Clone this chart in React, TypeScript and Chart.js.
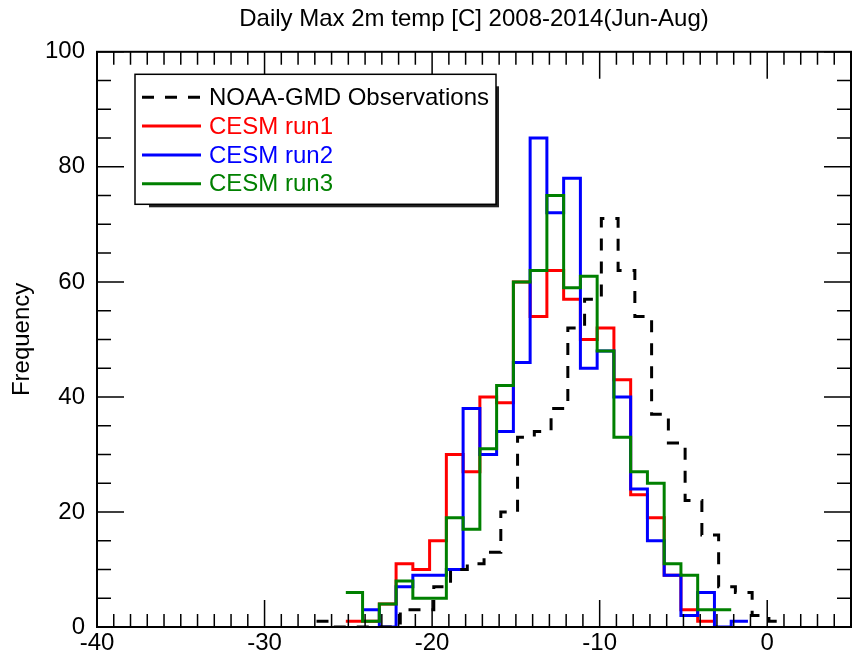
import React, { useEffect, useRef } from "react";
import { Chart, registerables } from "chart.js";

Chart.register(...registerables);

// ---------- DATA ----------
const TITLE = "Daily Max 2m temp [C] 2008-2014(Jun-Aug)";
const Y_TITLE = "Frequency";

const X_TICKS = [-40, -30, -20, -10, 0];
const Y_TICKS = [0, 20, 40, 60, 80, 100];
const X_MIN = -40;
const X_MAX = 5;
const Y_MIN = 0;
const Y_MAX = 100;

// Observation bin edges (left edges + final right edge), 1 °C bins
const OBS_EDGES = [
  -26.9, -25.9, -24.9, -23.9, -22.9, -21.9, -20.9, -19.9, -18.9, -17.9,
  -16.9, -15.9, -14.9, -13.9, -12.9, -11.9, -10.9, -9.9, -8.9, -7.9,
  -6.9, -5.9, -4.9, -3.9, -2.9, -1.9, -0.9, 0.1, 1.1,
];
const OBS_COUNTS = [
  1, 0, 0, 0, 0, 3, 3, 7, 10, 11,
  13, 20, 33, 34, 38, 52, 57, 71, 62, 54,
  37, 32, 22, 16, 7, 6, 2, 1,
];

// Model bin edges (left edges + final right edge), 1 °C bins
const MODEL_EDGES = [
  -25.15, -24.15, -23.15, -22.15, -21.15, -20.15, -19.15, -18.15, -17.15, -16.15,
  -15.15, -14.15, -13.15, -12.15, -11.15, -10.15, -9.15, -8.15, -7.15, -6.15,
  -5.15, -4.15, -3.15, -2.15, -1.15,
];
const RUN1_COUNTS = [
  1, 1, 4, 11, 10, 15, 30, 27, 40, 39,
  60, 54, 62, 57, 50, 52, 43, 23, 19, 9,
  3, 1, null, null,
];
const RUN2_COUNTS = [
  null, 3, 0, 7, 9, 9, 10, 38, 30, 34,
  46, 85, 72, 78, 45, 48, 40, 24, 15, 9,
  2, 6, 0, 1,
];
const RUN3_COUNTS = [
  6, 1, 4, 8, 5, 5, 19, 17, 31, 42,
  60, 62, 75, 59, 61, 48, 33, 27, 25, 11,
  9, 3, 3, null,
];

const SERIES_LABELS = ["NOAA-GMD Observations", "CESM run1", "CESM run2", "CESM run3"];

// ---------- helpers ----------
function stepPoints(edges: number[], counts: (number | null)[]) {
  const pts: { x: number; y: number }[] = [];
  let last = -1;
  for (let i = 0; i < counts.length; i++) {
    const c = counts[i];
    if (c === null || c === undefined) continue;
    pts.push({ x: edges[i], y: c });
    last = i;
  }
  if (last >= 0) pts.push({ x: edges[last + 1], y: counts[last] as number });
  return pts;
}

const FONT = "'Liberation Sans', Arial, Helvetica, sans-serif";

const framePlugin = {
  id: "idlFrame",
  afterDatasetsDraw(chart: any) {
    const { ctx, chartArea } = chart;
    const { left, right, top, bottom } = chartArea;
    const xs = chart.scales.x;
    const ys = chart.scales.y;
    ctx.save();
    ctx.strokeStyle = "#000";
    ctx.lineWidth = 1.5;
    ctx.beginPath();
    for (let v = X_MIN; v <= X_MAX; v += 1) {
      const px = xs.getPixelForValue(v);
      const len = X_TICKS.includes(v) ? 27 : 13;
      ctx.moveTo(px, bottom);
      ctx.lineTo(px, bottom - len);
      ctx.moveTo(px, top);
      ctx.lineTo(px, top + len);
    }
    for (let v = Y_MIN; v <= Y_MAX; v += 5) {
      const py = ys.getPixelForValue(v);
      const len = Y_TICKS.includes(v) ? 27 : 14;
      ctx.moveTo(left, py);
      ctx.lineTo(left + len, py);
      ctx.moveTo(right, py);
      ctx.lineTo(right - len, py);
    }
    ctx.stroke();
    ctx.lineWidth = 2;
    ctx.strokeRect(left, top, right - left, bottom - top);
    ctx.restore();
  },
};

const legendPlugin = {
  id: "boxLegend",
  afterDraw(chart: any) {
    const { ctx, chartArea } = chart;
    const bx = chartArea.left + 38;
    const by = chartArea.top + 22.5;
    const bw = 361;
    const bh = 130;
    ctx.save();
    // shadow
    ctx.fillStyle = "#222";
    ctx.fillRect(bx + 14, by + 12, bw - 11, bh - 9);
    ctx.fillStyle = "#fff";
    ctx.fillRect(bx, by, bw, bh);
    ctx.strokeStyle = "#000";
    ctx.lineWidth = 1.5;
    ctx.strokeRect(bx, by, bw, bh);
    ctx.font = `24px ${FONT}`;
    ctx.textBaseline = "middle";
    ctx.textAlign = "left";
    chart.data.datasets.forEach((ds: any, i: number) => {
      const ry = by + 23 + i * 28.8;
      ctx.strokeStyle = ds.borderColor;
      ctx.lineWidth = 3;
      ctx.setLineDash(ds.borderDash || []);
      ctx.beginPath();
      ctx.moveTo(bx + 7, ry);
      ctx.lineTo(bx + 66, ry);
      ctx.stroke();
      ctx.setLineDash([]);
      ctx.fillStyle = ds.borderColor;
      ctx.fillText(ds.label, bx + 74, ry + 1);
    });
    ctx.restore();
  },
};

export default function App() {
  const ref = useRef<HTMLCanvasElement>(null);

  useEffect(() => {
    const canvas = ref.current;
    if (!canvas) return;
    const common = {
      stepped: true,
      borderWidth: 3,
      pointRadius: 0,
      fill: false,
      tension: 0,
    };
    const chart = new Chart(canvas, {
      type: "line",
      data: {
        datasets: [
          {
            ...common,
            label: SERIES_LABELS[0],
            data: stepPoints(OBS_EDGES, OBS_COUNTS),
            borderColor: "#000000",
            borderDash: [12, 11],
            order: 0,
          },
          {
            ...common,
            label: SERIES_LABELS[1],
            data: stepPoints(MODEL_EDGES, RUN1_COUNTS),
            borderColor: "#ff0000",
            order: 3,
          },
          {
            ...common,
            label: SERIES_LABELS[2],
            data: stepPoints(MODEL_EDGES, RUN2_COUNTS),
            borderColor: "#0000ff",
            order: 2,
          },
          {
            ...common,
            label: SERIES_LABELS[3],
            data: stepPoints(MODEL_EDGES, RUN3_COUNTS),
            borderColor: "#008000",
            order: 1,
          },
        ] as any,
      },
      options: {
        responsive: false,
        animation: false,
        layout: { padding: { left: 0, right: 1, top: 0, bottom: 0 } },
        plugins: {
          legend: { display: false },
          tooltip: { enabled: false },
          title: {
            display: true,
            text: TITLE,
            color: "#000",
            font: { family: FONT, size: 24, weight: "normal" as any },
            padding: { top: 5, bottom: 18 },
            fullSize: false,
          },
        },
        scales: {
          x: {
            type: "linear",
            min: X_MIN,
            max: X_MAX,
            afterBuildTicks: (s: any) => {
              s.ticks = X_TICKS.map((v) => ({ value: v }));
            },
            afterFit: (s: any) => {
              s.height = 31;
            },
            ticks: {
              color: "#000",
              font: { family: FONT, size: 24 },
              padding: 2,
              maxRotation: 0,
              autoSkip: false,
            },
            grid: { display: false, drawTicks: false },
            border: { display: false },
          },
          y: {
            type: "linear",
            min: Y_MIN,
            max: Y_MAX,
            afterBuildTicks: (s: any) => {
              s.ticks = Y_TICKS.map((v) => ({ value: v }));
            },
            afterFit: (s: any) => {
              s.width = 97;
            },
            ticks: {
              color: "#000",
              font: { family: FONT, size: 24 },
              padding: 12,
              autoSkip: false,
            },
            title: {
              display: true,
              text: Y_TITLE,
              color: "#000",
              font: { family: FONT, size: 24 },
              padding: { top: 8, bottom: 0 },
            },
            grid: { display: false, drawTicks: false },
            border: { display: false },
          },
        },
      },
      plugins: [framePlugin, legendPlugin],
    });
    return () => chart.destroy();
  }, []);

  return (
    <div style={{ position: "absolute", left: 0, top: 0, width: 852, height: 658, background: "#fff" }}>
      <canvas ref={ref} width={852} height={658} style={{ display: "block", width: 852, height: 658 }} />
    </div>
  );
}
